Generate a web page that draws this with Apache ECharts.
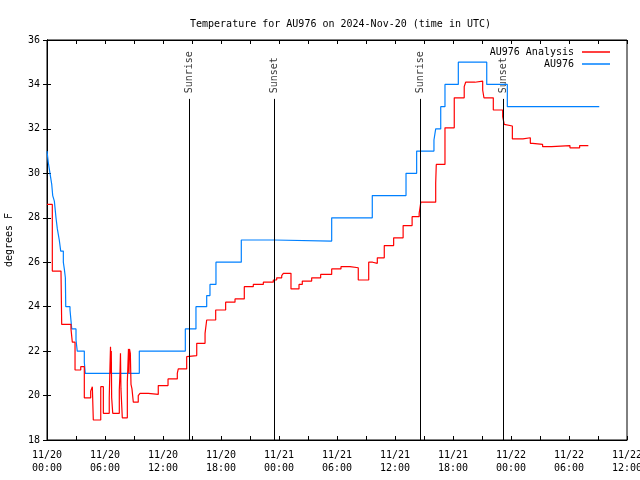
<!DOCTYPE html>
<html>
<head>
<meta charset="utf-8">
<script src="https://cdn.jsdelivr.net/npm/echarts@6/dist/echarts.min.js"></script>
<style>html,body{margin:0;padding:0;background:#fff}#c{width:640px;height:480px}</style>
</head>
<body>
<div id="c"></div>
<script>
// hours since 2024-11-20 00:00 UTC
const xTickLabels = ['11/20\n00:00','11/20\n06:00','11/20\n12:00','11/20\n18:00','11/21\n00:00','11/21\n06:00','11/21\n12:00','11/21\n18:00','11/22\n00:00','11/22\n06:00','11/22\n12:00'];
const yTicks = [18,20,22,24,26,28,30,32,34,36];

const blueTimes = [0,0.13,0.31,0.49,0.59,0.76,0.93,1.07,1.27,1.42,1.69,1.79,1.9,1.94,2.38,2.56,3.0,3.13,3.86,3.96,9.55,14.31,15.41,16.52,16.86,17.48,20.1,23.51,29.45,33.65,37.14,38.24,40.03,40.21,40.73,41.17,42.55,45.49,47.62,57.13];
const blueTemps = [31.0,30.5,30.0,29.5,29.0,28.75,28.0,27.5,27.0,26.5,26.0,25.7,25.3,24.0,23.85,23.0,22.5,22.0,21.5,21.0,22.0,23.0,24.0,24.5,25.0,26.0,27.0,26.95,28.0,29.0,30.0,31.0,31.5,32.0,33.0,34.0,35.0,34.0,33.0,33.0];

const redTimes = [0,0.55,1.45,1.52,2.48,2.62,2.90,3.49,3.86,4.52,4.69,4.79,5.56,5.83,6.44,6.52,6.57,6.62,6.65,6.69,6.80,7.48,7.55,7.60,7.65,7.79,8.31,8.43,8.48,8.53,8.62,8.69,8.79,8.93,9.44,9.62,10.48,11.51,12.52,13.48,13.58,14.45,14.55,15.49,16.35,16.52,17.45,18.48,19.45,20.41,21.34,22.38,23.41,23.76,24.28,24.45,25.24,26.07,26.41,27.38,28.31,29.45,30.41,31.34,32.2,33.28,33.69,34.17,34.89,35.86,36.84,37.77,38.5,38.67,40.21,40.27,41.17,42.13,43.16,43.31,44.27,45.07,45.2,46.17,47.14,47.3,47.38,48.14,49.24,50.0,50.24,51.27,52.2,54.1,55.1,56.0];
const redTemps = [28.6,25.6,25.5,23.2,23.0,22.4,21.15,21.3,19.9,20.2,20.4,18.9,20.4,19.2,19.9,21.4,22.2,21.0,22.0,19.9,19.2,20.25,21.0,21.9,20.3,19.0,20.6,22.1,21.0,22.1,21.9,20.5,20.3,19.7,20.0,20.1,20.05,20.45,20.75,21.0,21.2,21.75,21.8,22.35,22.8,23.4,23.85,24.2,24.35,24.9,25.0,25.1,25.2,25.3,25.4,25.5,24.8,25.0,25.15,25.3,25.45,25.7,25.8,25.75,25.2,26.0,25.95,26.2,26.75,27.1,27.65,28.05,28.2,28.7,29.55,30.4,32.05,33.4,33.9,34.1,34.15,33.75,33.4,32.85,32.55,32.2,32.13,31.55,31.6,31.35,31.3,31.2,31.25,31.15,31.25,31.25];

const sunEventNames = ['Sunrise','Sunset','Sunrise','Sunset'];
const sunEventTimes = [14.69,23.55,38.66,47.2];
const sunLineTop = 33.35;
const sunLabelBase = 33.6;

const FONT = 'DejaVu Sans Mono';
const chart = echarts.init(document.getElementById('c'));
const pair = (t, v) => t.map((x, i) => [x, v[i]]);

const tickCommon = { show: true, inside: true, length: 4, lineStyle: { color: '#000', width: 1 } };
const minorCommon = { show: true, splitNumber: 2, length: 4, lineStyle: { color: '#000', width: 1 } };

chart.setOption({
  animation: false,
  backgroundColor: '#fff',
  title: {
    text: 'Temperature for AU976 on 2024-Nov-20 (time in UTC)',
    left: 185, top: 14,
    textStyle: { fontFamily: FONT, fontSize: 10, fontWeight: 'normal', color: '#000' }
  },
  legend: {
    orient: 'vertical', right: 25, top: 42, align: 'right',
    itemWidth: 28, itemHeight: 1.5, itemGap: 2, icon: 'rect',
    data: ['AU976 Analysis', 'AU976'],
    textStyle: { fontFamily: FONT, fontSize: 10, color: '#000', padding: [0, 3, 0, 0] }
  },
  grid: { left: 47, right: 13, top: 40, bottom: 40, containLabel: false, outerBoundsMode: 'none',
    show: true, borderColor: '#000', borderWidth: 1, backgroundColor: 'transparent' },
  xAxis: [{
    type: 'value', min: 0, max: 60, interval: 6,
    axisLine: { show: true, lineStyle: { color: '#000' } },
    axisTick: tickCommon, minorTick: minorCommon,
    splitLine: { show: false },
    axisLabel: { fontFamily: FONT, fontSize: 10, color: '#000', margin: 9, lineHeight: 13,
      formatter: v => xTickLabels[Math.round(v / 6)] }
  }, {
    type: 'value', min: 0, max: 60, interval: 6, position: 'top',
    axisLine: { show: true, lineStyle: { color: '#000' } },
    axisTick: tickCommon, minorTick: minorCommon,
    splitLine: { show: false }, axisLabel: { show: false }
  }],
  yAxis: [{
    type: 'value', min: yTicks[0], max: yTicks[yTicks.length - 1], interval: 2,
    name: 'degrees F', nameLocation: 'middle', nameGap: 33, nameRotate: 90,
    nameTextStyle: { fontFamily: FONT, fontSize: 10, color: '#000' },
    axisLine: { show: true, lineStyle: { color: '#000' } },
    axisTick: tickCommon,
    splitLine: { show: false },
    axisLabel: { fontFamily: FONT, fontSize: 10, color: '#000', margin: 7 }
  }, {
    type: 'value', min: yTicks[0], max: yTicks[yTicks.length - 1], interval: 2, position: 'right',
    axisLine: { show: true, lineStyle: { color: '#000' } },
    axisTick: tickCommon,
    splitLine: { show: false }, axisLabel: { show: false }
  }],
  series: [{
    name: 'sun', type: 'scatter', silent: true, symbolSize: 0,
    data: sunEventTimes.map((t, i) => ({ value: [t, sunLabelBase], name: sunEventNames[i] })),
    label: { show: true, position: 'inside', rotate: 90, align: 'left', verticalAlign: 'middle',
      formatter: p => p.name, fontFamily: FONT, fontSize: 10, color: '#000' },
    markLine: {
      silent: true, symbol: 'none', animation: false,
      label: { show: false },
      lineStyle: { color: '#000', width: 1, type: 'solid' },
      data: sunEventTimes.map(t => [{ coord: [t, yTicks[0]] }, { coord: [t, sunLineTop] }])
    },
    z: 1
  }, {
    name: 'AU976 Analysis', type: 'line', step: 'end', showSymbol: false, symbol: 'none',
    data: pair(redTimes, redTemps),
    lineStyle: { color: '#ff0000', width: 1.2 }, itemStyle: { color: '#ff0000' }, z: 3
  }, {
    name: 'AU976', type: 'line', step: 'end', showSymbol: false, symbol: 'none',
    data: pair(blueTimes, blueTemps),
    lineStyle: { color: '#0080ff', width: 1.2 }, itemStyle: { color: '#0080ff' }, z: 2
  }]
});
</script>
</body>
</html>
